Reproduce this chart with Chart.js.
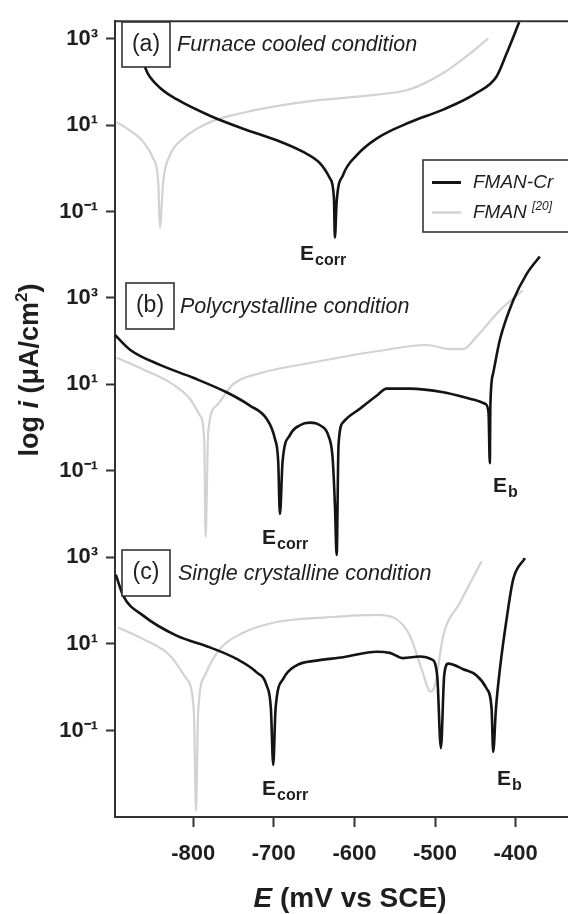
<!DOCTYPE html>
<html>
<head>
<meta charset="utf-8">
<script src="https://cdn.jsdelivr.net/npm/chart.js@4"></script>
<style>
    html, body { margin: 0; padding: 0; background: #fff; }
    canvas { display: block; }
</style>
</head>
<body>
<canvas id="chart" width="568" height="914"></canvas>
<script>
// ===== Axis ticks =====
const eTicks = [-800, -700, -600, -500, -400];
const iTicks = [0.1, 10, 1000];
const iTickLabels = ['10⁻¹', '10¹', '10³'];

// ===== (a) Furnace cooled condition =====
const fcCrE = [-862, -856.6, -841.3, -820.6, -779.3, -738, -696.5, -663.5, -642.8, -630.4, -625.4, -624.2, -622, -613.9, -597.3, -572.5, -531.1, -489.8, -448.4, -423.6, -411.2, -395.5];
const fcCrI = [282, 162, 74, 40, 16.6, 8.3, 4.5, 2.4, 1.32, 0.59, 0.21, 0.025, 0.17, 0.71, 2.0, 4.9, 11.7, 23, 56, 135, 457, 2450];
const fcE = [-895, -878.5, -862, -849.6, -843.4, -841.3, -837.2, -828.9, -812.4, -779.3, -738, -655.2, -572.5, -531.1, -489.8, -456.7, -434];
const fcI = [11.7, 7.6, 4.1, 1.7, 0.5, 0.043, 0.5, 2.0, 4.9, 11.7, 19.5, 36, 51, 68, 162, 457, 1020];

// ===== (b) Polycrystalline condition =====
const pcCrE = [-897, -878.4, -841.2, -800, -758.6, -729.7, -709, -698.7, -694.5, -692.4, -689.1, -680, -667.6, -655.2, -642.8, -632.5, -627, -624.2, -622, -619.7, -613.9, -593.2, -572.5, -560.1, -531.1, -489.8, -448.4, -437.6, -433.6, -432, -431.3, -427.8, -419.5, -403, -386.4, -370];
const pcCrI = [138, 63, 28, 14.1, 6.5, 3.2, 1.58, 0.55, 0.16, 0.0098, 0.16, 0.66, 1.12, 1.29, 1.12, 0.66, 0.195, 0.0166, 0.0011, 0.39, 1.32, 2.7, 5.4, 7.9, 7.9, 6.5, 4.2, 3.5, 2.2, 0.148, 3.2, 18, 107, 870, 3550, 9100];
const pcE = [-895, -862, -828.9, -804.1, -791.7, -786.4, -784.6, -781.4, -771, -750.4, -717.2, -655.2, -572.5, -510.4, -481.5, -465, -448.4, -419.5, -391.2];
const pcI = [41, 22, 11, 4.6, 1.9, 0.55, 0.0029, 0.78, 3.2, 10, 18, 31, 58, 81, 65, 65, 126, 513, 1480];

// ===== (c) Single crystalline condition =====
const scCrE = [-896, -886.8, -862, -820.6, -779.3, -746.2, -721.3, -708.9, -703.6, -700.7, -697.8, -688.3, -671.7, -646.9, -613.9, -572.5, -556, -539.5, -518.7, -504.2, -497.3, -492.7, -488.6, -483.6, -465, -448.4, -436, -429.8, -427.8, -424.4, -419.5, -411.2, -403, -388.5];
const scCrI = [400, 129, 45, 15.5, 8.3, 4.5, 2.2, 1.1, 0.32, 0.016, 0.32, 1.55, 3.2, 4.1, 4.9, 6.6, 6.2, 4.7, 5.1, 4.4, 1.86, 0.039, 1.86, 3.5, 2.6, 1.86, 0.93, 0.32, 0.032, 0.32, 2.6, 37, 309, 955];
const scE = [-893, -862, -828.9, -808.2, -799.1, -796.6, -793.8, -785.5, -766.9, -738, -696.5, -634.5, -572.5, -551.9, -531.1, -516.6, -505.5, -500.1, -489.8, -469.1, -442.2];
const scI = [24, 12.9, 5.4, 1.55, 0.27, 0.0014, 0.27, 1.86, 7.6, 18, 32, 41, 47, 41, 15.5, 2.6, 0.79, 1.1, 15.5, 89, 813];

const FONT = "'Liberation Sans', Arial, sans-serif";
const INK = '#1e1e1e';
const CR_COLOR = '#141414';
const FMAN_COLOR = '#d2d2d2';

// ===== Helpers =====
function toPoints(E, I) {
    return E.map((e, k) => ({ x: e, y: I[k] }));
}

function series(label, E, I, axis, isCr) {
    return {
        label: label,
        data: toPoints(E, I),
        yAxisID: axis,
        borderColor: isCr ? CR_COLOR : FMAN_COLOR,
        borderWidth: isCr ? 2.6 : 2.2,
        cubicInterpolationMode: 'monotone',
        pointRadius: 0,
        fill: false,
        clip: false,
        order: isCr ? 0 : 1
    };
}

function logAxis(min, max, stackWeight, weight) {
    return {
        type: 'logarithmic',
        position: 'left',
        stack: 'panels',
        stackWeight: stackWeight,
        weight: weight,
        min: min,
        max: max,
        bounds: 'data',
        afterBuildTicks: s => { s.ticks = iTicks.map(v => ({ value: v })); },
        afterFit: s => { s.width = 115; },
        ticks: {
            autoSkip: false,
            padding: 8,
            color: INK,
            font: { family: FONT, size: 22, weight: 'bold' },
            callback: v => { const k = iTicks.indexOf(v); return k < 0 ? '' : iTickLabels[k]; }
        },
        grid: { drawOnChartArea: false, tickLength: 9, tickWidth: 2, tickColor: '#333' },
        border: { color: '#333', width: 2 }
    };
}

// subscripted label like E_corr
function subLabel(ctx, main, sub, x, y) {
    ctx.font = 'bold 21px ' + FONT;
    ctx.textAlign = 'left';
    ctx.textBaseline = 'alphabetic';
    ctx.fillText(main, x, y);
    const w = ctx.measureText(main).width;
    ctx.font = 'bold 16px ' + FONT;
    ctx.fillText(sub, x + w + 1, y + 5);
}

function panelHeading(ctx, tag, text, box, textX) {
    ctx.fillStyle = '#fff';
    ctx.fillRect(box[0], box[1], box[2], box[3]);
    ctx.strokeStyle = '#333';
    ctx.lineWidth = 1.6;
    ctx.strokeRect(box[0], box[1], box[2], box[3]);
    ctx.fillStyle = INK;
    ctx.textBaseline = 'middle';
    ctx.textAlign = 'center';
    ctx.font = '23px ' + FONT;
    ctx.fillText(tag, box[0] + box[2] / 2, box[1] + box[3] / 2);
    ctx.textAlign = 'left';
    ctx.font = 'italic 21.5px ' + FONT;
    ctx.fillText(text, textX, box[1] + box[3] / 2 + 1);
}

// ===== Annotations: frame, headings, legend, labels, titles =====
const annotations = {
    id: 'annotations',
    afterDatasetsDraw(chart) {
        const { ctx, chartArea } = chart;
        ctx.save();

        // top frame line
        ctx.strokeStyle = '#333';
        ctx.lineWidth = 2;
        ctx.beginPath();
        ctx.moveTo(chartArea.left - 1, chartArea.top);
        ctx.lineTo(chartArea.right, chartArea.top);
        ctx.stroke();

        panelHeading(ctx, '(a)', 'Furnace cooled condition', [122, 22, 48, 45], 177);
        panelHeading(ctx, '(b)', 'Polycrystalline condition', [126, 283, 48, 46], 180);
        panelHeading(ctx, '(c)', 'Single crystalline condition', [122, 550, 48, 46], 178);

        // legend
        ctx.fillStyle = '#fff';
        ctx.fillRect(423, 160, 160, 72);
        ctx.strokeStyle = '#333';
        ctx.lineWidth = 1.6;
        ctx.strokeRect(423, 160, 160, 72);
        ctx.lineWidth = 3;
        ctx.strokeStyle = CR_COLOR;
        ctx.beginPath(); ctx.moveTo(432, 182.5); ctx.lineTo(461, 182.5); ctx.stroke();
        ctx.lineWidth = 2.5;
        ctx.strokeStyle = FMAN_COLOR;
        ctx.beginPath(); ctx.moveTo(432, 212.5); ctx.lineTo(461, 212.5); ctx.stroke();
        ctx.fillStyle = INK;
        ctx.textAlign = 'left';
        ctx.textBaseline = 'middle';
        ctx.font = 'italic 19px ' + FONT;
        ctx.fillText('FMAN-Cr', 473, 183);
        ctx.fillText('FMAN', 473, 213);
        const fw = ctx.measureText('FMAN ').width;
        ctx.font = 'italic 12px ' + FONT;
        ctx.fillText('[20]', 473 + fw, 207);

        // Ecorr / Eb labels
        subLabel(ctx, 'E', 'corr', 300, 260);
        subLabel(ctx, 'E', 'corr', 262, 544);
        subLabel(ctx, 'E', 'b', 493, 492);
        subLabel(ctx, 'E', 'corr', 262, 795);
        subLabel(ctx, 'E', 'b', 497, 785);

        // x title: E (mV vs SCE)
        ctx.textBaseline = 'alphabetic';
        const xParts = [['E', 'italic bold 28px '], [' (mV vs SCE)', 'bold 28px ']];
        let total = 0;
        xParts.forEach(p => { ctx.font = p[1] + FONT; total += ctx.measureText(p[0]).width; });
        let px = 350 - total / 2;
        xParts.forEach(p => { ctx.font = p[1] + FONT; ctx.fillText(p[0], px, 907); px += ctx.measureText(p[0]).width; });

        // y title: log i (μA/cm²)
        ctx.save();
        ctx.translate(38, 370);
        ctx.rotate(-Math.PI / 2);
        const yParts = [['log ', 'bold 27px ', 0], ['i', 'italic bold 27px ', 0], [' (μA/cm', 'bold 27px ', 0], ['2', 'bold 17px ', -11], [')', 'bold 27px ', 0]];
        total = 0;
        yParts.forEach(p => { ctx.font = p[1] + FONT; total += ctx.measureText(p[0]).width; });
        px = -total / 2;
        yParts.forEach(p => { ctx.font = p[1] + FONT; ctx.fillText(p[0], px, p[2]); px += ctx.measureText(p[0]).width; });
        ctx.restore();

        ctx.restore();
    }
};

// ===== Chart =====
const chart = new Chart(document.getElementById('chart'), {
    type: 'line',
    data: {
        datasets: [
            series('FMAN-Cr', fcCrE, fcCrI, 'ya', true),
            series('FMAN', fcE, fcI, 'ya', false),
            series('FMAN-Cr', pcCrE, pcCrI, 'yb', true),
            series('FMAN', pcE, pcI, 'yb', false),
            series('FMAN-Cr', scCrE, scCrI, 'yc', true),
            series('FMAN', scE, scI, 'yc', false)
        ]
    },
    options: {
        responsive: false,
        animation: false,
        layout: { padding: { top: 15, left: 0, right: 0, bottom: 0 } },
        plugins: { legend: { display: false }, tooltip: { enabled: false } },
        scales: {
            x: {
                type: 'linear',
                min: -897,
                max: -335,
                afterBuildTicks: s => { s.ticks = eTicks.map(v => ({ value: v })); },
                afterFit: s => { s.height = 97; },
                ticks: {
                    autoSkip: false,
                    maxRotation: 0,
                    padding: 14,
                    color: INK,
                    font: { family: FONT, size: 22, weight: 'bold' }
                },
                grid: { drawOnChartArea: false, tickLength: 10, tickWidth: 2, tickColor: '#333' },
                border: { color: '#333', width: 2 }
            },
            ya: logAxis(0.00257, 2570, 261, 3),
            yb: logAxis(0.00257, 2570, 261, 2),
            yc: logAxis(0.001, 2630, 280, 1)
        }
    },
    plugins: [annotations]
});
</script>
</body>
</html>
